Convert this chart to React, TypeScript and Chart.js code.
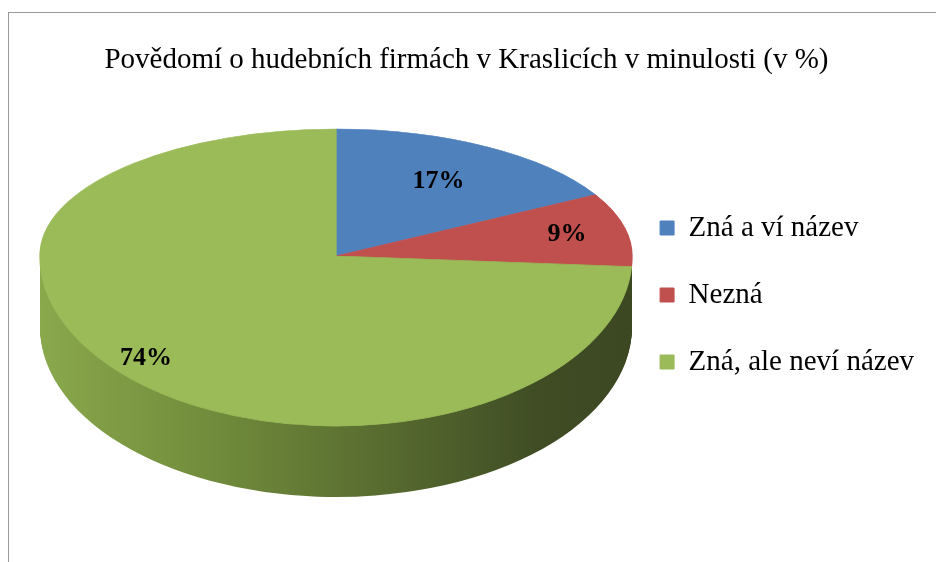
import React, { useEffect, useRef } from "react";
import { Chart, registerables } from "chart.js";

Chart.register(...registerables);

const TITLE = "Povědomí o hudebních firmách v Kraslicích v minulosti (v %)";
const CATEGORIES = ["Zná a ví název", "Nezná", "Zná, ale neví název"];
const VALUES = [17, 9, 74];
const COLORS = ["#4f81bd", "#c0504d", "#9bbb59"];
const SIDE_STOPS = [
  [0, "#8aa84c"],
  [0.3, "#708b3b"],
  [0.6, "#56692f"],
  [0.85, "#3f4c24"],
  [1, "#3c4822"],
] as const;

// 3D pie projection (canvas pixels)
const AX = 327;
const AY = 243;
const RX = 296;
const RY_TOP = 127;
const RY_BOTTOM = 170;
const DEPTH = 71;
// radial position of each data label (fraction of radius)
const LABEL_RADII = [0.68, 0.8, 0.88];

const FONT = "'Liberation Serif', 'Times New Roman', serif";

const pie3d = {
  id: "pie3d",
  beforeDatasetsDraw(chart: any) {
    const ctx: CanvasRenderingContext2D = chart.ctx;
    const meta = chart.getDatasetMeta(0);
    const els = meta.data as any[];
    if (!els.length) return false;
    const cx = els[0].x;
    const cy = els[0].y;
    const r = els[0].outerRadius;
    const W = chart.width;
    const H = chart.height;

    const grad = ctx.createLinearGradient(cx - r, 0, cx + r, 0);
    SIDE_STOPS.forEach(([o, c]) => grad.addColorStop(o, c));

    // side wall
    for (let k = DEPTH; k >= 1; k--) {
      ctx.save();
      ctx.beginPath();
      ctx.rect(0, AY, W, H - AY);
      ctx.clip();
      ctx.translate(AX, AY + k);
      ctx.scale(RX / r, RY_BOTTOM / r);
      ctx.translate(-cx, -cy);
      els.forEach((el) => {
        const fake = Object.create(el);
        fake.options = { ...el.options, backgroundColor: grad, borderColor: grad, borderWidth: 0 };
        fake.draw(ctx);
      });
      ctx.restore();
    }

    // top face: far half
    ctx.save();
    ctx.beginPath();
    ctx.rect(0, 0, W, AY);
    ctx.clip();
    ctx.translate(AX, AY);
    ctx.scale(RX / r, RY_TOP / r);
    ctx.translate(-cx, -cy);
    els.forEach((el) => el.draw(ctx));
    ctx.restore();

    // top face: near half
    ctx.save();
    ctx.beginPath();
    ctx.rect(0, AY, W, H - AY);
    ctx.clip();
    ctx.translate(AX, AY);
    ctx.scale(RX / r, RY_BOTTOM / r);
    ctx.translate(-cx, -cy);
    els.forEach((el) => el.draw(ctx));
    ctx.restore();

    // data labels
    const total = VALUES.reduce((a, b) => a + b, 0);
    ctx.save();
    ctx.font = `bold 26px ${FONT}`;
    ctx.fillStyle = "#000";
    ctx.textAlign = "center";
    ctx.textBaseline = "middle";
    els.forEach((el, i) => {
      const mid = (el.startAngle + el.endAngle) / 2;
      const ux = Math.cos(mid);
      const uy = Math.sin(mid);
      const f = LABEL_RADII[i] ?? 0.8;
      const x = AX + RX * f * ux;
      const y = AY + (uy < 0 ? RY_TOP : RY_BOTTOM) * f * uy;
      ctx.fillText(`${Math.round((VALUES[i] / total) * 100)}%`, x, y);
    });
    ctx.restore();
    return false;
  },
};

export default function App() {
  const ref = useRef<HTMLCanvasElement>(null);
  useEffect(() => {
    if (!ref.current) return;
    const chart = new Chart(ref.current, {
      type: "pie",
      data: {
        labels: CATEGORIES,
        datasets: [
          {
            data: VALUES,
            backgroundColor: COLORS,
            borderColor: COLORS,
            borderWidth: 1,
          },
        ],
      },
      options: {
        responsive: false,
        animation: false,
        events: [],
        layout: { padding: { left: 0, right: 12, top: 15, bottom: 0 } },
        plugins: {
          title: {
            display: true,
            text: TITLE,
            color: "#000",
            font: { family: FONT, size: 29, weight: "normal" },
            padding: { top: 15, bottom: 27 },
          },
          legend: {
            position: "right",
            labels: {
              color: "#000",
              font: { family: FONT, size: 29 },
              boxWidth: 14,
              boxHeight: 14,
              padding: 38,
            },
          },
          tooltip: { enabled: false },
        },
      },
      plugins: [pie3d],
    });
    return () => chart.destroy();
  }, []);
  return (
    <div
      style={{
        position: "absolute",
        left: 8,
        top: 12,
        width: 928,
        height: 550,
        borderTop: "1px solid #9a9a9a",
        borderLeft: "1px solid #9a9a9a",
        boxSizing: "border-box",
      }}
    >
      <canvas ref={ref} width={927} height={549} style={{ display: "block" }} />
    </div>
  );
}
